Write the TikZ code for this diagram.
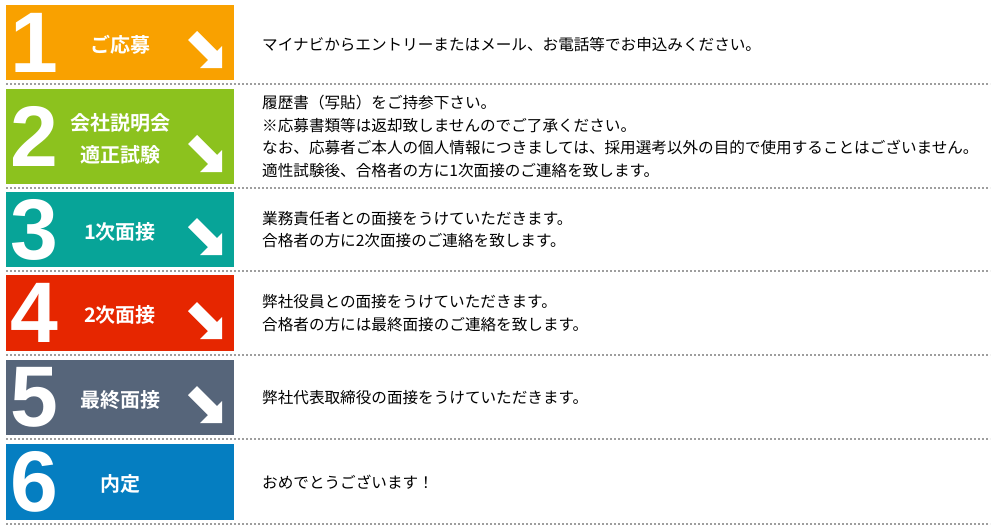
\documentclass[tikz,border=0pt]{standalone}
\usepackage{fontspec}
\usepackage{xcolor}
\usetikzlibrary{positioning}
\newfontfamily\jpfont{Noto Sans CJK JP}[BoldFont={Noto Sans CJK JP Bold}]
\newfontfamily\numfont{Liberation Sans}
\definecolor{steporange}{HTML}{F9A100}
\definecolor{stepgreen}{HTML}{8CC21E}
\definecolor{stepteal}{HTML}{07A498}
\definecolor{stepred}{HTML}{E62600}
\definecolor{stepslate}{HTML}{56657A}
\definecolor{stepblue}{HTML}{057EC1}
\colorlet{sepgray}{black!38}
\tikzset{
	stepbox/.style={rectangle,minimum width=228pt,inner sep=0,outer sep=0},
	stepnum/.style={anchor=west,inner sep=0,white,font=\numfont\bfseries\fontsize{86}{86}\selectfont},
	steplabel/.style={inner sep=0,white,align=center,font=\jpfont\bfseries\fontsize{20}{32}\selectfont},
	stepdesc/.style={anchor=west,inner sep=0,black,align=left,font=\jpfont\fontsize{15.6}{22.5}\selectfont},
	sepline/.style={sepgray,line width=2pt,dash pattern=on 2pt off 2pt},
	downarrow/.style={white}
}

\begin{document}
\begin{tikzpicture}[x=1pt,y=-1pt]
  \useasboundingbox (0,0) rectangle (1000,530);

  % STEP BOXES
  \foreach \i/\ya/\yb/\col/\lab [evaluate={\yc=(\ya+\yb)/2; \h=\yb-\ya;}]
    in {1/5/80/steporange/ご応募,
        2/89/184/stepgreen/{会社説明会\\適正試験},
        3/192/267/stepteal/1次面接,
        4/275/351/stepred/2次面接,
        5/360/435/stepslate/最終面接,
        6/444/520/stepblue/内定}{ % loop over steps
    \node[stepbox,fill=\col,minimum height=\h pt] (S-\i) at (120,\yc) {};
    \node[stepnum] (N-\i) at ([xshift=4pt]S-\i.west) {\i};
    \node[steplabel] (L-\i) at ([yshift=-2pt]S-\i.center) {\lab};
    \draw[sepline] ([yshift=-4pt]S-\i.south west) -- ++(984,0);
    \ifnum\i<6 % arrow to next step
      \fill[downarrow,shift={(S-\i.south east)}]
        (-46,-40) -- (-37,-49) -- (-17,-29) -- (-12,-34) -- (-12,-12) -- (-34,-12) -- (-26,-20) -- cycle;
    \fi
  }

  % DESCRIPTIONS
  \node[stepdesc] (D-1) at ([xshift=28pt,yshift=-2pt]S-1.east)
    {マイナビからエントリーまたはメール、お電話等でお申込みください。};
  \node[stepdesc] (D-2) at ([xshift=28pt]S-2.east)
    {履歴書（写貼）をご持参下さい。\\
     ※応募書類等は返却致しませんのでご了承ください。\\
     なお、応募者ご本人の個人情報につきましては、採用選考以外の目的で使用することはございません。\\
     適性試験後、合格者の方に1次面接のご連絡を致します。};
  \node[stepdesc] (D-3) at ([xshift=28pt]S-3.east)
    {業務責任者との面接をうけていただきます。\\
     合格者の方に2次面接のご連絡を致します。};
  \node[stepdesc] (D-4) at ([xshift=28pt]S-4.east)
    {弊社役員との面接をうけていただきます。\\
     合格者の方には最終面接のご連絡を致します。};
  \node[stepdesc] (D-5) at ([xshift=28pt]S-5.east)
    {弊社代表取締役の面接をうけていただきます。};
  \node[stepdesc] (D-6) at ([xshift=28pt]S-6.east)
    {おめでとうございます！};

\end{tikzpicture}
\end{document}
